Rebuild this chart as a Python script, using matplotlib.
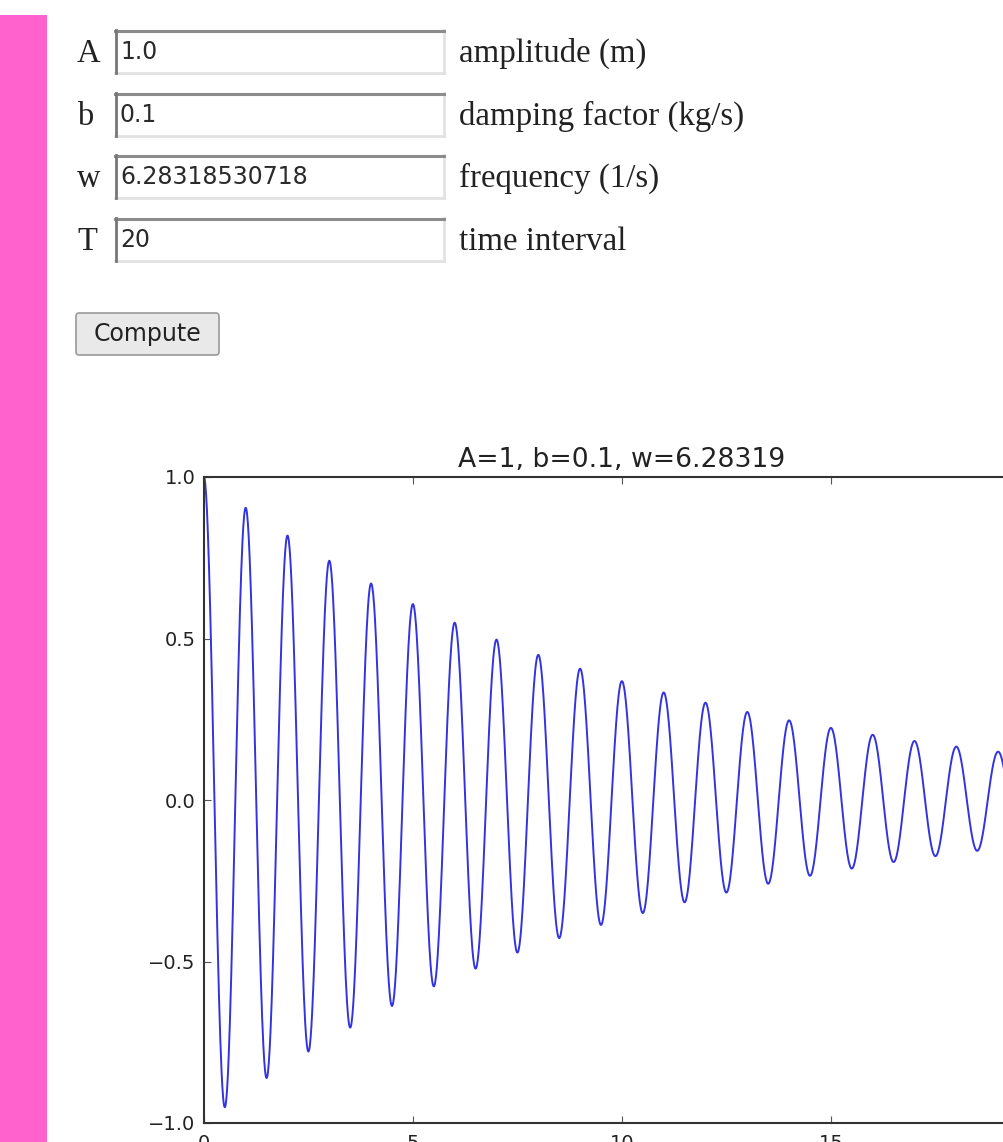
import numpy as np
import matplotlib
matplotlib.use("Agg")
import matplotlib.pyplot as plt
from matplotlib.patches import Rectangle, FancyBboxPatch
from matplotlib.lines import Line2D

# ---- data (form values) ----
param_names = ["A", "b", "w", "T"]
param_values = ["1.0", "0.1", "6.28318530718", "20"]
param_desc = ["amplitude (m)", "damping factor (kg/s)", "frequency (1/s)", "time interval"]
A_val = 1.0
b_val = 0.1
w_val = 6.28318530718
T_val = 20
n_points = 2001
x_ticks = [0, 5, 10, 15, 20]
y_ticks = [-1.0, -0.5, 0.0, 0.5, 1.0]
title_text = "A=1, b=0.1, w=6.28319"

W, H = 1004, 1142
fig = plt.figure(figsize=(W / 100, H / 100), dpi=100)
fig.patch.set_facecolor("white")


def fx(px):
    return px / W


def fy(py):
    return 1 - py / H


# pink side bar
fig.patches.append(Rectangle((0, 0), fx(47), fy(15), transform=fig.transFigure,
                             facecolor="#ff62cc", edgecolor="none", zorder=0))

# form rows
row_top = [30, 93, 155, 218]
box_h = 43
box_x0, box_x1 = 115, 444
for i, (nm, val, desc) in enumerate(zip(param_names, param_values, param_desc)):
    t = row_top[i]
    base = t + 32
    fig.text(fx(77), fy(base), nm, family="Liberation Serif", fontsize=23.5,
             color="#222222", va="baseline", ha="left")
    fig.text(fx(459), fy(base), desc, family="Liberation Serif", fontsize=23.7,
             color="#222222", va="baseline", ha="left")
    # input box
    fig.patches.append(Rectangle((fx(box_x0), fy(t + box_h)), fx(box_x1 - box_x0), box_h / H,
                                 transform=fig.transFigure, facecolor="white",
                                 edgecolor="none", zorder=1))
    for (xa, ya, xb, yb, c, lw) in [
        (box_x0, t + box_h, box_x1, t + box_h, "#e2e2e2", 2.0),
        (box_x1, t, box_x1, t + box_h, "#e2e2e2", 2.0),
        (box_x0, t + 1, box_x1, t + 1, "#8c8c8c", 2.2),
        (box_x0 + 1, t, box_x0 + 1, t + box_h, "#777777", 2.0),
    ]:
        fig.lines.append(Line2D([fx(xa), fx(xb)], [fy(ya), fy(yb)], transform=fig.transFigure,
                                color=c, lw=lw, zorder=2))
    fig.text(fx(120), fy(t + 29), val, family="DejaVu Sans", fontsize=17,
             color="#2a2a2a", va="baseline", ha="left", zorder=3)

# Compute button
fig.patches.append(FancyBboxPatch((fx(76), fy(355)), fx(219 - 76), 42 / H,
                                  boxstyle="round,pad=0,rounding_size=0.003",
                                  transform=fig.transFigure, facecolor="#e9e9e9",
                                  edgecolor="#9a9a9a", linewidth=1.2, zorder=1))
fig.text(fx(147.5), fy(334), "Compute", family="DejaVu Sans", fontsize=17,
         color="#222222", va="center", ha="center", zorder=3)

# ---- plot ----
ax_left, ax_top, ax_bottom = 204, 477, 1123
px_per_unit = 41.8
ax_w = px_per_unit * T_val
ax = fig.add_axes([fx(ax_left), fy(ax_bottom), ax_w / W, (ax_bottom - ax_top) / H])

# damped oscillation defined by the form parameters shown in the picture
t = np.linspace(0, T_val, n_points)
y = A_val * np.exp(-b_val * t) * np.cos(w_val * t)
ax.plot(t, y, color="#3333e0", lw=1.4)

ax.set_xlim(0, T_val)
ax.set_ylim(-1.0, 1.0)
ax.set_xticks(x_ticks)
ax.set_yticks(y_ticks)
ax.set_yticklabels([f"{v:.1f}".replace("-", "\u2212") for v in y_ticks])
ax.tick_params(direction="in", top=True, right=True, length=5, width=0.8,
               color="#555555", labelsize=14, labelcolor="#222222")
ax.tick_params(axis="x", pad=8)
ax.tick_params(axis="y", pad=6)
for s in ax.spines.values():
    s.set_linewidth(1.5)
    s.set_color("#333333")
ax.set_title(title_text, fontsize=19.2, color="#222222", pad=7, family="DejaVu Sans")

fig.savefig("out.png", dpi=100)
